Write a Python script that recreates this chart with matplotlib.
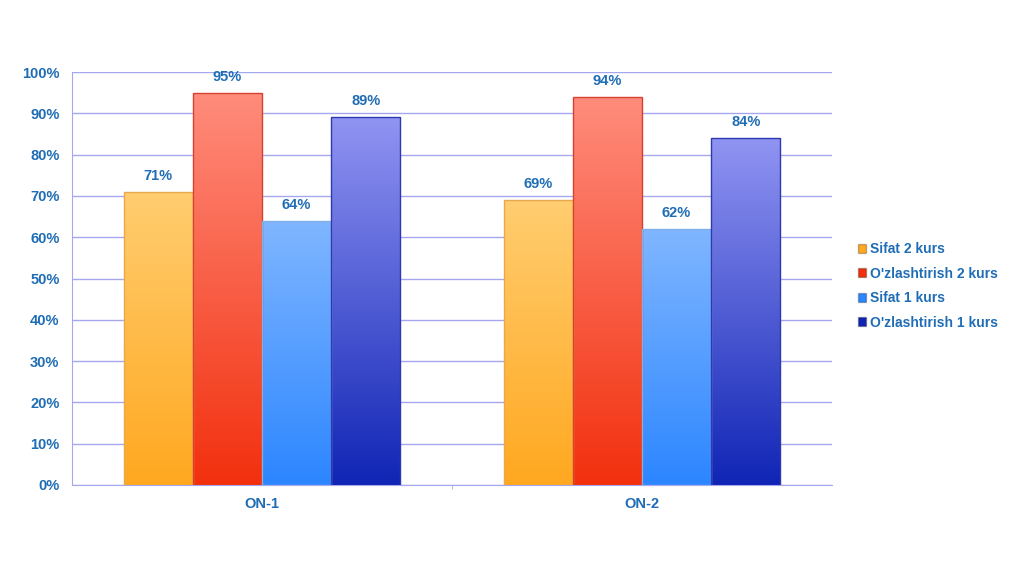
import matplotlib.pyplot as plt
import numpy as np
from matplotlib.colors import LinearSegmentedColormap
from matplotlib.patches import Patch

plt.rcParams['font.family'] = ['Liberation Sans', 'DejaVu Sans']

# === DATA ===
groups = ['ON-1', 'ON-2']
series = ['Sifat 2 kurs', "O'zlashtirish 2 kurs", 'Sifat 1 kurs', "O'zlashtirish 1 kurs"]
sifat_2 = [71, 69]
ozl_2 = [95, 94]
sifat_1 = [64, 62]
ozl_1 = [89, 84]

# top colour, bottom colour for each series
grads = [('#FFCD70', '#FFA820'),
         ('#FF8C7C', '#F2300E'),
         ('#80B6FF', '#2C86FF'),
         ('#9094F2', '#1025B5')]
edges = ['#E8A850', '#D84030', '#80B0E8', '#3038B0']
text_blue = '#1F6DB5'
grid_col = '#A5A8EE'

fig = plt.figure(figsize=(10.24, 5.74), dpi=100)
ax = fig.add_axes([72 / 1024, 1 - 485 / 574, 760 / 1024, 413 / 574])

x = np.arange(len(groups))
w = 0.182
values = [sifat_2, ozl_2, sifat_1, ozl_1]

for i, (vals, (c_top, c_bot)) in enumerate(zip(values, grads)):
    cmap = LinearSegmentedColormap.from_list(f'g{i}', [c_bot, c_top])
    offs = (i - 1.5) * w
    bars = ax.bar(x + offs, vals, w, color=c_top, linewidth=0, zorder=3)
    for b, v in zip(bars, vals):
        grad = np.linspace(0, 1, 256).reshape(-1, 1)
        im = ax.imshow(grad, cmap=cmap, origin='lower', aspect='auto',
                       extent=(b.get_x(), b.get_x() + w, 0, v), zorder=3)
        im.set_clip_path(b)
        ax.text(b.get_x() + w / 2, v + 2.2, f'{v}%', ha='center', va='bottom',
                color=text_blue, fontsize=10.5, fontweight='bold')
    ax.bar(x + offs, vals, w, fill=False, edgecolor=edges[i], linewidth=1, zorder=4)

ax.set_xlim(-0.5, 1.5)
ax.set_ylim(0, 100)
ax.set_yticks(np.arange(0, 101, 10))
ax.set_yticklabels([f'{t}%' for t in range(0, 101, 10)])
ax.set_xticks([0.5], minor=True)
ax.set_xticks(x)
ax.set_xticklabels(groups)
ax.tick_params(axis='both', which='major', length=0, colors=text_blue, labelsize=10.5, pad=9)
ax.tick_params(axis='x', which='minor', length=3, color='#B0B0B0')
for lbl in ax.get_xticklabels() + ax.get_yticklabels():
    lbl.set_fontweight('bold')

ax.grid(axis='y', color=grid_col, linewidth=1, zorder=0)
for s in ['top', 'right']:
    ax.spines[s].set_visible(False)
for s in ['left', 'bottom']:
    ax.spines[s].set_color(grid_col)

handles = [Patch(facecolor=c_bot, edgecolor='#00000040', label=s) for s, (c_top, c_bot) in zip(series, grads)]
leg = fig.legend(handles=handles, loc='center left', bbox_to_anchor=(845 / 1024, 1 - 286 / 574),
                 frameon=False, handlelength=0.6, handleheight=0.6, handletextpad=0.3,
                 labelspacing=0.75, prop={'weight': 'bold', 'size': 10})
for t in leg.get_texts():
    t.set_color(text_blue)

fig.savefig('out.png', dpi=100)
